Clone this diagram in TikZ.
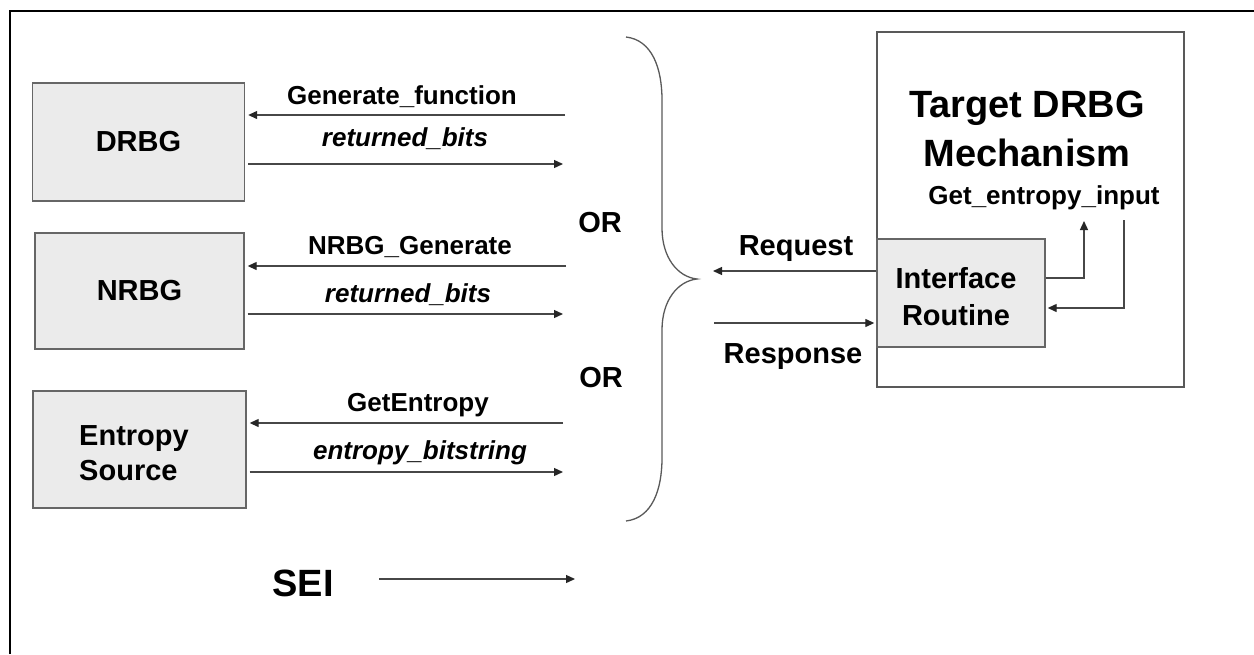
\documentclass[tikz,border=0pt]{standalone}
\usepackage{fontspec}
\setmainfont{Liberation Sans}
\usetikzlibrary{arrows.meta}
\begin{document}
\begin{tikzpicture}[x=1pt,y=-1pt,
  box/.style={draw=black!60, fill=black!8, line width=1.4pt, inner sep=0pt, align=center,
    font=\fontsize{29}{36}\selectfont\bfseries},
  frame/.style={draw=black!65, line width=1.4pt, inner sep=0pt},
  arr/.style={draw=black!72, line width=1.3pt, -{Triangle[length=9pt,width=8pt,color=black!85]}},
  conn/.style={draw=black!65, line width=1.3pt},
  lbl/.style={font=\fontsize{26}{30}\selectfont\bfseries, inner sep=0pt},
  ilbl/.style={font=\fontsize{26}{30}\selectfont\bfseries\itshape, inner sep=0pt},
  big/.style={font=\fontsize{29}{35}\selectfont\bfseries, inner sep=0pt},
  title/.style={font=\fontsize{38}{49}\selectfont\bfseries, inner sep=0pt, align=center}]
\useasboundingbox (0,0) rectangle (1254,654);
\draw[line width=2.5pt] (10,654) -- (10,11) -- (1254,11);

% left boxes
\node[box, minimum width=212pt, minimum height=118pt] (drbg) at (138.5,142) {DRBG};
\node[box, minimum width=209pt, minimum height=116pt] (nrbg) at (139.5,291) {NRBG};
\node[box, minimum width=213pt, minimum height=117pt] (es) at (139.5,449.5) {};
\node[big, align=left, font=\fontsize{29}{35}\selectfont\bfseries] (estext) at (134,453) {Entropy\\Source};

% brace-side end points
\coordinate (g1) at (565,115);
\coordinate (r1) at (563,164);
\coordinate (g2) at (566,266);
\coordinate (r2) at (563,314);
\coordinate (g3) at (563,423);
\coordinate (r3) at (563,472);

\draw[arr] (g1) -- ([xshift=3pt]drbg.east |- g1);
\draw[arr] ([xshift=3pt]drbg.east |- r1) -- (r1);
\draw[arr] (g2) -- ([xshift=3pt]nrbg.east |- g2);
\draw[arr] ([xshift=3pt]nrbg.east |- r2) -- (r2);
\draw[arr] (g3) -- ([xshift=3pt]es.east |- g3);
\draw[arr] ([xshift=3pt]es.east |- r3) -- (r3);

\node[lbl] (lg1) at (402,97) {Generate\_function};
\node[ilbl] (lr1) at (405,139) {returned\_bits};
\node[lbl] (lg2) at (410,247) {NRBG\_Generate};
\node[ilbl] (lr2) at (408,295) {returned\_bits};
\node[lbl] (lg3) at (418,405) {GetEntropy};
\node[ilbl] (lr3) at (420,453) {entropy\_bitstring};

\node[big] (or1) at (600,223) {OR};
\node[big] (or2) at (601,378) {OR};

% brace
\draw[conn] (626,37) .. controls (652,40) and (662,68) .. (662,100) -- (662,228)
  .. controls (662,258) and (678,277) .. (697,279)
  .. controls (678,281) and (662,300) .. (662,330) -- (662,458)
  .. controls (662,490) and (652,518) .. (626,521);

% SEI
\node[title] (sei) at (303,583) {SEI};
\coordinate (seiA) at (379,579);
\coordinate (seiB) at (575,579);
\draw[arr] (seiA) -- (seiB);

% target
\node[frame, fill=white, minimum width=307pt, minimum height=355pt] (target) at (1030.5,209.5) {};
\node[title] (ttl) at (1027,129) {Target DRBG\\Mechanism};
\node[lbl] (gei) at (1044,198) {Get\_entropy\_input};
\node[box, minimum width=168pt, minimum height=108pt] (ifr) at (961,293) {};
\node[big, align=center, font=\fontsize{29}{37}\selectfont\bfseries] (iftext) at (956,297) {Interface\\Routine};

\coordinate (up) at (1084,221);
\coordinate (dn) at (1124,220);
\draw[arr] (ifr.east |- 0,278) -| (up);
\draw[arr] (dn) |- ([xshift=2pt]ifr.east |- 0,308);

\coordinate (reqE) at (713,271);
\coordinate (resS) at (714,323);
\draw[arr] (ifr.west |- reqE) -- (reqE);
\draw[arr] (resS) -- ([xshift=-2pt]ifr.west |- resS);
\node[big] (req) at (796,249) {Request};
\node[big] (res) at (793,357) {Response};
\end{tikzpicture}
\end{document}
